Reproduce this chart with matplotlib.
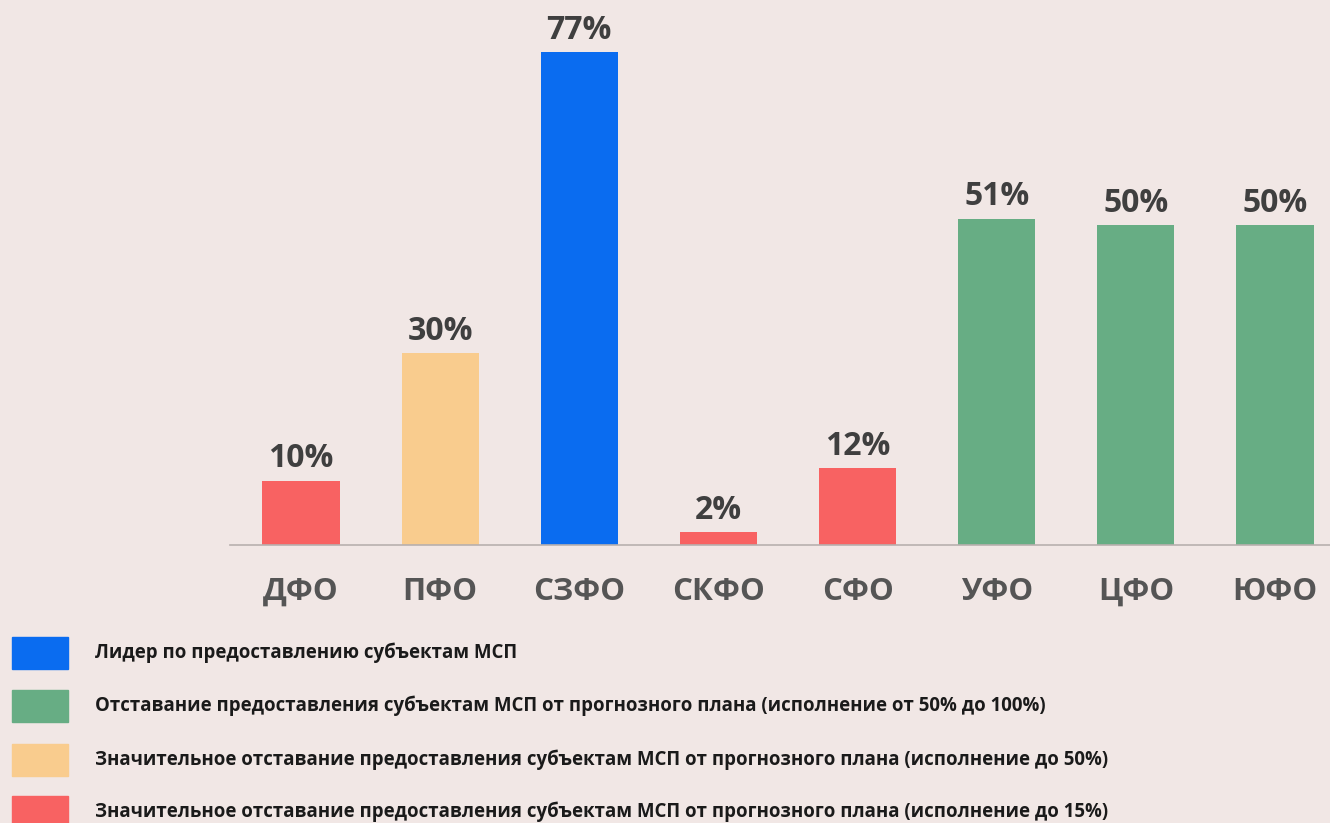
import matplotlib
matplotlib.use("Agg")
import matplotlib.pyplot as plt
from matplotlib.patches import Rectangle

categories = ["ДФО", "ПФО", "СЗФО", "СКФО", "СФО", "УФО", "ЦФО", "ЮФО"]
values = [10, 30, 77, 2, 12, 51, 50, 50]
groups = ["red", "orange", "blue", "red", "red", "green", "green", "green"]

colors = {"blue": "#0a6cf0", "green": "#67ad84", "orange": "#f9cc8e", "red": "#f86262"}
legend_keys = ["blue", "green", "orange", "red"]
legend_labels = [
    "Лидер по предоставлению субъектам МСП",
    "Отставание предоставления субъектам МСП от прогнозного плана (исполнение от 50% до 100%)",
    "Значительное отставание предоставления субъектам МСП от прогнозного плана (исполнение до 50%)",
    "Значительное отставание предоставления субъектам МСП от прогнозного плана (исполнение до 15%)",
]

bg = "#f1e7e5"
plt.rcParams['font.family'] = ['Open Sans', 'DejaVu Sans']

fig = plt.figure(figsize=(13.3, 8.23), dpi=100, facecolor=bg)
W, H = 1330, 823
ax = fig.add_axes([230 / W, 1 - 545 / H, 1 - 230 / W, 545 / H])
ax.set_facecolor(bg)

x = list(range(len(categories)))
ax.bar(x, values, width=0.555, color=[colors[g] for g in groups], zorder=2)
ax.set_xlim(-0.51, 7.395)
ax.set_ylim(0, 85.2)

for xi, v in zip(x, values):
    ax.annotate(f"{v}%", (xi, v), xytext=(0, 4), textcoords="offset points",
                ha="center", va="bottom", fontsize=23, fontweight="bold", color="#3f3f3f")

for s in ["top", "right", "left"]:
    ax.spines[s].set_visible(False)
ax.spines["bottom"].set_color("#b8b0ae")
ax.spines["bottom"].set_linewidth(1.2)
ax.set_yticks([])
ax.set_xticks(x)
ax.set_xticklabels(categories, fontsize=22.5, fontweight="bold", color="#555555")
ax.tick_params(axis="x", length=0, pad=23)

ys = [653, 706, 760, 812]
for k, lab, yc in zip(legend_keys, legend_labels, ys):
    fig.patches.append(Rectangle((12 / W, 1 - (yc + 16) / H), 56 / W, 32 / H,
                                 transform=fig.transFigure, color=colors[k]))
    fig.text(95 / W, 1 - yc / H, lab, fontsize=13.4, fontweight="bold",
             color="#1a1a1a", va="center", ha="left")

fig.savefig("out.png", dpi=100, facecolor=bg)
